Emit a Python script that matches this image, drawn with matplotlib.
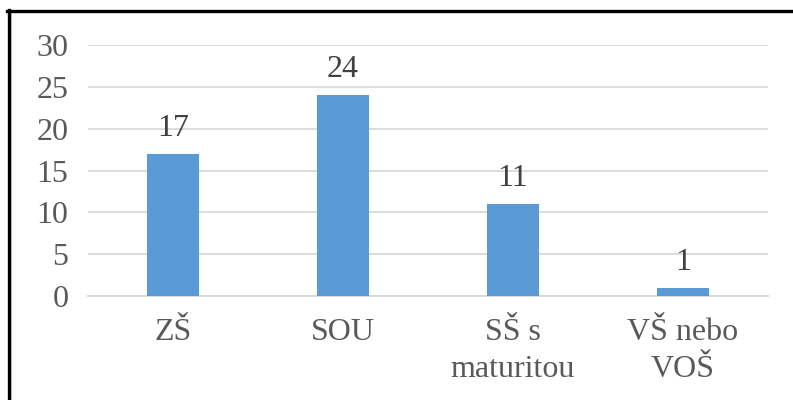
import matplotlib
matplotlib.use("Agg")
import matplotlib.pyplot as plt
from matplotlib.lines import Line2D

categories = ["ZŠ", "SOU", "SŠ s\nmaturitou", "VŠ nebo\nVOŠ"]
values = [17, 24, 11, 1]
yticks = [0, 5, 10, 15, 20, 25, 30]

plt.rcParams['font.family'] = ['Liberation Serif', 'DejaVu Serif']
text_color = "#595959"
fs = 23

fig = plt.figure(figsize=(7.93, 4.0), dpi=100)
ax = fig.add_axes([0.111, 0.26, 0.8575, 0.6275])

x = range(len(categories))
bars = ax.bar(x, values, width=0.31, color="#5B9BD5", zorder=3)
for xi, v in zip(x, values):
    ax.annotate(str(v), (xi, v), xytext=(0, 8), textcoords="offset points",
                ha="center", va="bottom", fontsize=fs, color="#404040")

ax.set_xlim(-0.5, len(categories) - 0.5)
ax.set_ylim(0, 30)
ax.set_yticks(yticks)
ax.yaxis.grid(True, color="#D9D9D9", linewidth=1.3, zorder=0)
ax.set_axisbelow(True)
for s in ["top", "right", "left"]:
    ax.spines[s].set_visible(False)
ax.spines["bottom"].set_color("#D9D9D9")
ax.spines["bottom"].set_linewidth(1.3)
ax.set_xticks(list(x))
ax.set_xticklabels(categories, linespacing=1.35)
ax.tick_params(axis="both", length=0, labelsize=fs, colors=text_color)
ax.tick_params(axis="y", pad=14)
ax.tick_params(axis="x", pad=16)

# frame (top and left edges visible)
fig.add_artist(Line2D([0.0088, 1.0], [0.97, 0.97], transform=fig.transFigure, color="#D0D0D0", linewidth=1.2))
fig.add_artist(Line2D([0.0135, 0.0135], [0.0, 0.97], transform=fig.transFigure, color="#D0D0D0", linewidth=1.2))
fig.add_artist(Line2D([0.0088, 1.0], [0.9725, 0.9725], transform=fig.transFigure, color="black", linewidth=2.4))
fig.add_artist(Line2D([0.0110, 0.0110], [0.0, 0.9745], transform=fig.transFigure, color="black", linewidth=2.4))

fig.savefig("out.png", dpi=100)
